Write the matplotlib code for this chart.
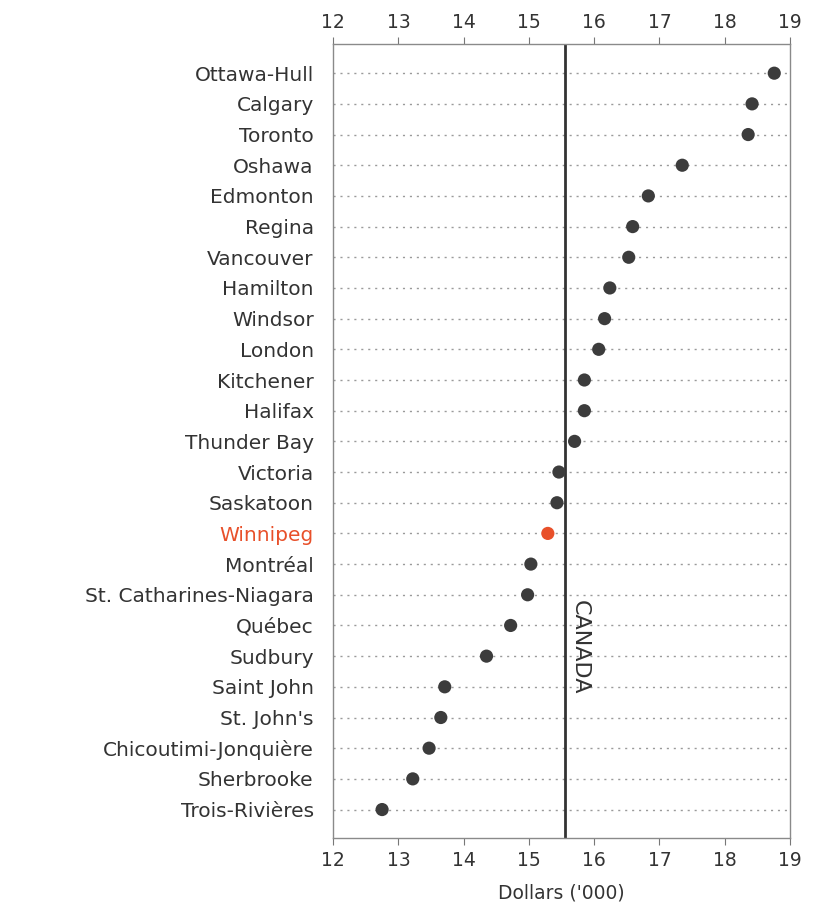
import numpy as np
import matplotlib.pyplot as plt

# cities, top to bottom
cities = ["Ottawa-Hull", "Calgary", "Toronto", "Oshawa", "Edmonton", "Regina",
          "Vancouver", "Hamilton", "Windsor", "London", "Kitchener", "Halifax",
          "Thunder Bay", "Victoria", "Saskatoon", "Winnipeg", "Montréal",
          "St. Catharines-Niagara", "Québec", "Sudbury", "Saint John",
          "St. John's", "Chicoutimi-Jonquière", "Sherbrooke", "Trois-Rivières"]
# dollars ('000)
values = [18.76, 18.42, 18.36, 17.35, 16.83, 16.59, 16.53, 16.24, 16.16, 16.07,
          15.85, 15.85, 15.70, 15.46, 15.43, 15.29, 15.03, 14.98, 14.72, 14.35,
          13.71, 13.65, 13.47, 13.22, 12.75]
canada = 15.55
highlight = "Winnipeg"
xticks = [12, 13, 14, 15, 16, 17, 18, 19]

text_col = "#333333"
dot_col = "#3c3c3c"
hl_col = "#e8502a"

fig = plt.figure(figsize=(8.35, 9.08), dpi=100)
ax = fig.add_axes([0.399, 0.077, 0.547, 0.8745])

y = np.arange(len(cities))

# dotted guide lines for each city
for yi in y:
    ax.axhline(yi, color="#9a9a9a", lw=1.0, ls=(0, (1.5, 3.5)), zorder=1)

colors = [hl_col if c == highlight else dot_col for c in cities]
ax.scatter(values, y, s=90, c=colors, zorder=3, edgecolors="none")

# national average
ax.axvline(canada, color="#333333", lw=2.0, zorder=2)
ax.text(canada + 0.08, 18.7, "CANADA", rotation=-90, ha="left", va="center",
        fontsize=16, color=text_col)

ax.set_xlim(12, 19)
ax.set_ylim(len(cities) - 1 + 0.93, -0.95)
ax.set_yticks(y)
ax.set_yticklabels(cities, fontsize=14.5, color=text_col)
for lab in ax.get_yticklabels():
    if lab.get_text() == highlight:
        lab.set_color(hl_col)
ax.tick_params(axis="y", length=0, pad=14)

ax.set_xticks(xticks)
ax.tick_params(axis="x", top=True, labeltop=True, direction="out", length=5,
               width=0.8, color="#777777", labelsize=13.5, labelcolor=text_col, pad=4)
ax.set_xlabel("Dollars ('000)", fontsize=13.5, color=text_col, labelpad=10)

for sp in ax.spines.values():
    sp.set_color("#8a8a8a")
    sp.set_linewidth(1.0)

fig.savefig("out.png", dpi=100)
